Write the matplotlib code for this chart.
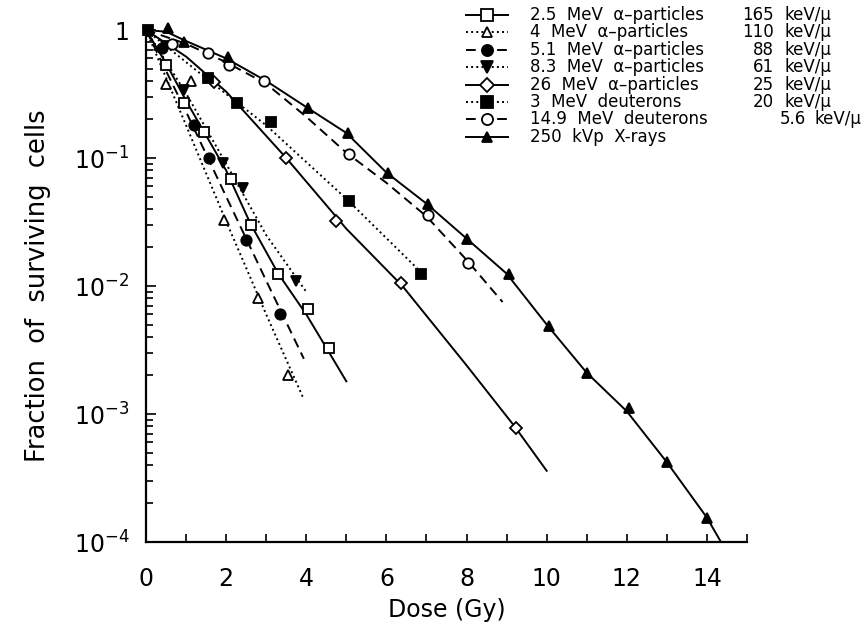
import matplotlib
matplotlib.use("Agg")
import matplotlib.pyplot as plt
from matplotlib.ticker import FixedLocator, LogLocator, FuncFormatter, NullFormatter
import numpy as np

plt.rcParams["font.family"] = ["DejaVu Sans"]

# ---- data ----
# marker points
x_a25 = [0.5, 0.95, 1.45, 2.12, 2.62, 3.3, 4.04, 4.56]
y_a25 = [0.53, 0.27, 0.16, 0.068, 0.030, 0.0125, 0.0066, 0.0033]
x_a4 = [0.5, 1.12, 1.95, 2.79, 3.54]
y_a4 = [0.38, 0.40, 0.033, 0.008, 0.002]
x_a51 = [0.4, 1.2, 1.57, 2.49, 3.34]
y_a51 = [0.72, 0.18, 0.10, 0.023, 0.006]
x_a83 = [0.5, 0.95, 1.92, 2.42, 3.74]
y_a83 = [0.75, 0.34, 0.091, 0.058, 0.011]
x_a26 = [1.70, 3.49, 4.74, 6.36, 9.23]
y_a26 = [0.39, 0.10, 0.032, 0.0105, 0.00078]
x_d3 = [0.05, 1.55, 2.27, 3.12, 5.06, 6.86]
y_d3 = [1.0, 0.42, 0.27, 0.19, 0.046, 0.0125]
x_d149 = [0.65, 1.55, 2.07, 2.94, 5.06, 7.03, 8.03]
y_d149 = [0.78, 0.66, 0.53, 0.40, 0.107, 0.036, 0.015]
x_xr = [0.55, 0.95, 2.05, 4.05, 5.05, 6.05, 7.05, 8.0, 9.05, 10.05, 11.0, 12.05, 13.0, 14.0]
y_xr = [1.04, 0.80, 0.61, 0.247, 0.157, 0.076, 0.044, 0.0235, 0.0125, 0.0049, 0.0021, 0.00112, 0.00042, 0.000155]

# fitted curves (traced)
cx_a25 = [0, 0.5, 1, 1.5, 2, 2.6, 3.3, 4, 4.55, 5.0]
cy_a25 = [1, 0.55, 0.28, 0.15, 0.08, 0.031, 0.0125, 0.006, 0.0031, 0.0018]
cx_a4 = [0, 1, 2, 3, 3.94]
cy_a4 = [1, 0.18, 0.032, 0.006, 0.0013]
cx_a51 = [0, 1, 2, 3, 3.94]
cy_a51 = [1, 0.23, 0.05, 0.011, 0.0027]
cx_a83 = [0, 1, 2, 3, 4.0]
cy_a83 = [1, 0.32, 0.09, 0.025, 0.009]
cx_a26 = [0, 1, 2, 3.5, 5, 6.4, 8, 9.2, 10]
cy_a26 = [1, 0.62, 0.33, 0.10, 0.028, 0.01, 0.0024, 0.0008, 0.00036]
cx_d3 = [0, 1.5, 3, 5, 6.9]
cy_d3 = [1, 0.42, 0.18, 0.048, 0.0125]
cx_d149 = [0, 1, 2, 3, 4, 5, 6, 7, 8, 8.9]
cy_d149 = [1, 0.78, 0.56, 0.38, 0.21, 0.11, 0.064, 0.035, 0.016, 0.0075]
cx_xr = [0, 0.5, 1, 2, 3, 4, 5, 6, 7, 8, 9, 10, 11, 12, 13, 14, 14.35]
cy_xr = [1, 0.97, 0.82, 0.6, 0.4, 0.25, 0.157, 0.077, 0.044, 0.0235, 0.0125, 0.005, 0.0021, 0.00105, 0.00042, 0.000155, 0.0001]

names = ["2.5  MeV  \u03b1\u2013particles", "4  MeV  \u03b1\u2013particles",
         "5.1  MeV  \u03b1\u2013particles", "8.3  MeV  \u03b1\u2013particles",
         "26  MeV  \u03b1\u2013particles", "3  MeV  deuterons",
         "14.9  MeV  deuterons", "250  kVp  X-rays"]
let_vals = ["165", "110", "88", "61", "25", "20", "5.6", ""]

# style per series: marker, fill, linestyle
styles = [("s", "white", "-"), ("^", "white", ":"), ("o", "black", (0, (5, 3))),
          ("v", "black", ":"), ("D", "white", "-"), ("s", "black", ":"),
          ("o", "white", (0, (5, 3))), ("^", "black", "-")]
msizes = [7.5, 7, 7.5, 7.5, 6.5, 7.5, 7.5, 7]

markers = [(x_a25, y_a25), (x_a4, y_a4), (x_a51, y_a51), (x_a83, y_a83),
           (x_a26, y_a26), (x_d3, y_d3), (x_d149, y_d149), (x_xr, y_xr)]
curves = [(cx_a25, cy_a25), (cx_a4, cy_a4), (cx_a51, cy_a51), (cx_a83, cy_a83),
          (cx_a26, cy_a26), (cx_d3, cy_d3), (cx_d149, cy_d149), (cx_xr, cy_xr)]

fig = plt.figure(figsize=(8.68, 6.31), dpi=100)
ax = fig.add_axes([146 / 868, 1 - 542 / 631, (747 - 146) / 868, (542 - 30) / 631])

for (cx, cy), (mx, my), (mk, fc, ls), ms in zip(curves, markers, styles, msizes):
    ax.plot(cx, cy, color="black", lw=1.4, ls=ls, zorder=2)
    ax.plot(mx, my, ls="none", marker=mk, ms=ms, mfc=fc, mec="black", mew=1.3,
            zorder=3, clip_on=False)

ax.set_yscale("log")
ax.set_xlim(0, 15)
ax.set_ylim(1e-4, 1)
ax.spines["top"].set_visible(False)
ax.spines["right"].set_visible(False)
for s in ["left", "bottom"]:
    ax.spines[s].set_linewidth(1.6)

ax.xaxis.set_major_locator(FixedLocator([0, 2, 4, 6, 8, 10, 12, 14]))
ax.xaxis.set_minor_locator(FixedLocator([1, 3, 5, 7, 9, 11, 13, 15]))
ax.yaxis.set_major_locator(FixedLocator([1e-4, 1e-3, 1e-2, 1e-1, 1]))
ax.yaxis.set_minor_locator(LogLocator(base=10, subs=np.arange(2, 10)))
ax.yaxis.set_minor_formatter(NullFormatter())


def ylab(v, pos):
    if v >= 1:
        return "1"
    return r"$10^{%d}$" % int(round(np.log10(v)))


ax.yaxis.set_major_formatter(FuncFormatter(ylab))
ax.tick_params(axis="both", which="both", direction="in", width=1.2, labelsize=17)
ax.tick_params(axis="x", which="both", length=6, pad=18)
ax.tick_params(axis="y", which="major", length=7, pad=12)
ax.tick_params(axis="y", which="minor", length=5)

ax.set_xlabel("Dose (Gy)", fontsize=17, labelpad=5)
ax.set_ylabel("Fraction  of  surviving  cells", fontsize=18.5, labelpad=16)

# ---- legend drawn in pixel space ----
lg = fig.add_axes([0, 0, 1, 1], facecolor="none")
lg.set_xlim(0, 868)
lg.set_ylim(631, 0)
lg.axis("off")
row_y = 15
fs = 12
for i, ((mk, fc, ls), ms) in enumerate(zip(styles, msizes)):
    y = row_y + i * 17.4
    lg.plot([466, 508], [y, y], color="black", lw=1.4, ls=ls)
    lg.plot([487], [y], marker=mk, ms=ms + 0.5, mfc=fc, mec="black", mew=1.3, ls="none")
    lg.text(530, y, names[i], fontsize=fs, va="center", ha="left")
    if let_vals[i]:
        if let_vals[i] == "5.6":
            nx, ux = 806, 814
        else:
            nx, ux = 774, 784
        lg.text(nx, y, let_vals[i], fontsize=fs, va="center", ha="right")
        lg.text(ux, y, "keV/\u03bc", fontsize=fs, va="center", ha="left")

fig.savefig("out.png", dpi=100)
